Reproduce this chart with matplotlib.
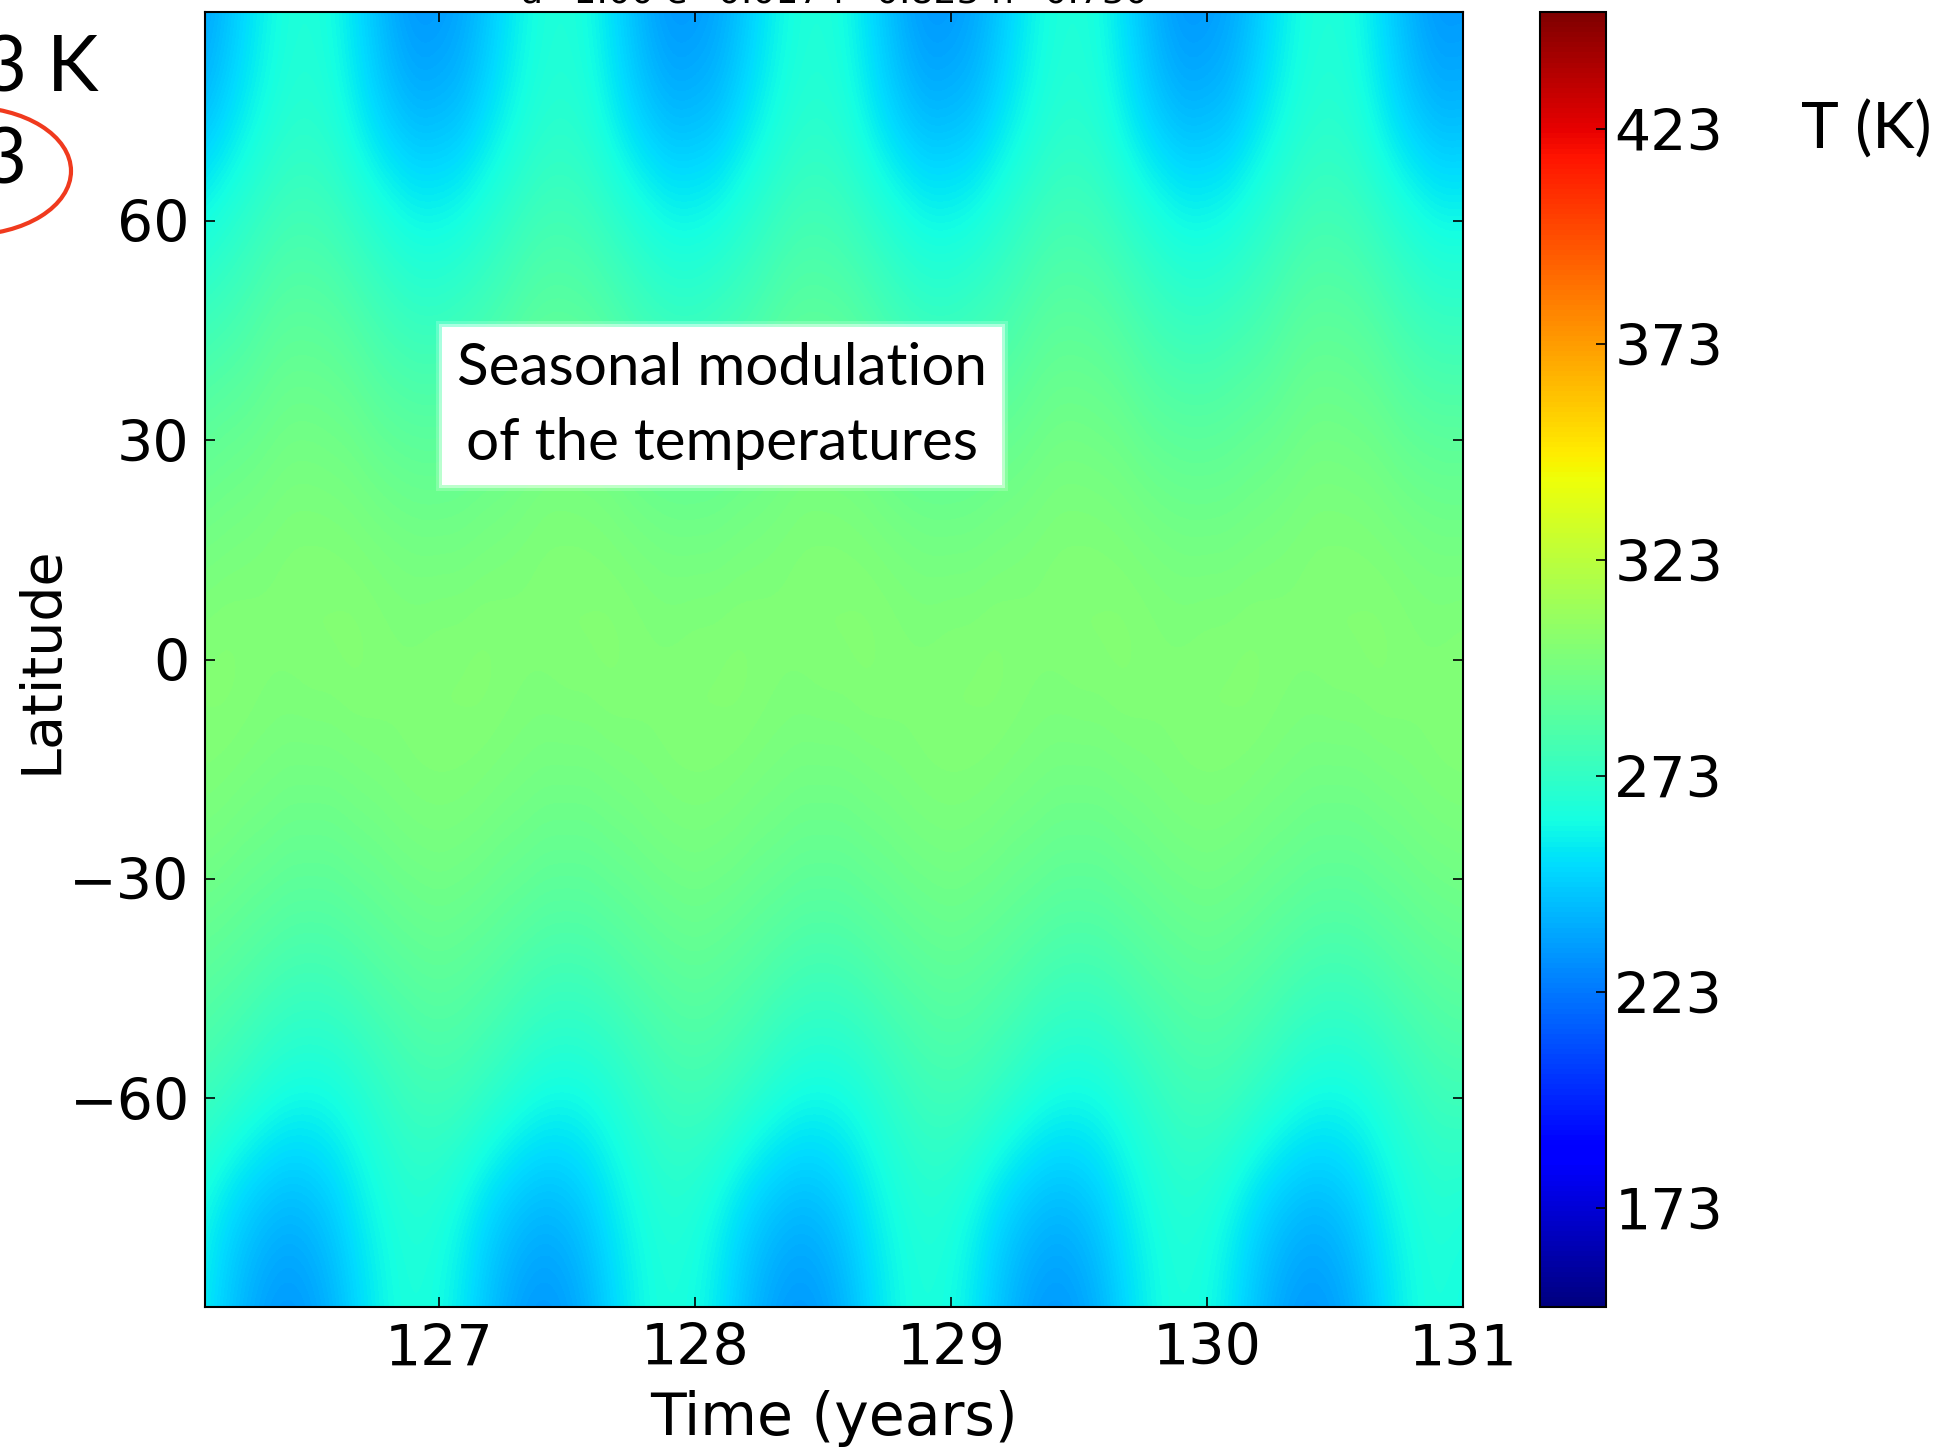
import numpy as np
import matplotlib
matplotlib.use("Agg")
import matplotlib.pyplot as plt
from matplotlib.patches import Ellipse

# latitude rows (deg) of the zonal-mean temperature table
lats = [90, 75, 60, 45, 30, 15, 0, -15, -30, -45, -60, -75, -90]

# monthly surface temperature (K) over one orbit, one row per latitude
temps = [
    [232, 236, 243, 252, 260, 265, 266, 262, 254, 245, 236, 231],
    [241, 243, 250, 257, 263, 267, 268, 265, 258, 250, 244, 240],
    [262, 264, 268, 272, 276, 279, 279, 277, 273, 269, 265, 262],
    [276, 278, 280, 283, 287, 289, 289, 288, 285, 281, 278, 276],
    [289, 290, 292, 293, 295, 297, 297, 296, 295, 292, 290, 289],
    [298, 298, 299, 300, 301, 302, 302, 302, 301, 300, 299, 298],
    [303, 303, 304, 303, 302, 302, 303, 303, 304, 303, 302, 302],
    [302, 302, 301, 300, 299, 298, 298, 298, 299, 300, 301, 302],
    [297, 296, 295, 293, 292, 290, 290, 290, 292, 293, 295, 296],
    [288, 287, 285, 283, 280, 278, 277, 278, 280, 283, 285, 287],
    [278, 277, 274, 270, 266, 263, 262, 263, 266, 270, 274, 277],
    [265, 260, 253, 247, 243, 241, 243, 248, 255, 261, 265, 267],
    [262, 256, 247, 239, 233, 231, 234, 240, 249, 257, 263, 265],
]

years = [126, 127, 128, 129, 130]
x_ticks = [127, 128, 129, 130, 131]
y_ticks = [-60, -30, 0, 30, 60]
cbar_ticks = [173, 223, 273, 323, 373, 423]

W, H = 1948, 1447
fig = plt.figure(figsize=(W / 100, H / 100), dpi=100)


def fx(px):
    return px / W


def fy(py):
    return 1 - py / H


ax = fig.add_axes([fx(205), fy(1307), fx(1463 - 205), (1307 - 12) / H])
cax = fig.add_axes([fx(1540), fy(1307), fx(1606 - 1540), (1307 - 12) / H])

# same orbit repeated every year, plus the closing month at t=131
field = np.array(temps, dtype=float)
field = np.hstack([np.tile(field, (1, len(years))), field[:, :1]])
t0, t1 = years[0], years[-1] + 1
dt = 1 / 12.0
dlat = 15.0

im = ax.imshow(field, cmap="jet", vmin=150, vmax=450, aspect="auto",
               interpolation="bicubic",
               extent=[t0 - dt / 2, t1 + dt / 2, lats[-1] - dlat / 2, lats[0] + dlat / 2])
ax.set_xlim(126.086, 131)
ax.set_ylim(-88.5, 88.5)

tick_font = dict(family="DejaVu Sans", size=41)
ax.set_xticks(x_ticks)
ax.set_yticks(y_ticks)
ax.set_xticklabels([str(v) for v in x_ticks], **tick_font)
ax.set_yticklabels([str(v).replace("-", "\u2212") for v in y_ticks], **tick_font)
ax.tick_params(direction="in", top=True, right=True, length=7, width=1.2, pad=11)
for s in ax.spines.values():
    s.set_linewidth(1.5)
ax.set_xlabel("Time (years)", family="DejaVu Sans", size=42, labelpad=9)
ax.set_ylabel("Latitude", family="DejaVu Sans", size=40, labelpad=1)
ax.set_title("a=1.00 e=0.017 f=0.823 h=0.730", family="DejaVu Sans", size=26, pad=7)

cb = fig.colorbar(im, cax=cax)
cb.set_ticks(cbar_ticks)
cb.ax.set_yticklabels([str(v) for v in cbar_ticks], **tick_font)
cb.ax.tick_params(direction="in", length=7, width=1.2, pad=6)
cb.outline.set_linewidth(1.5)

# slide annotations: white label with a soft edge
slide_font = dict(family="Lato", color="black")
label = "Seasonal modulation\nof the temperatures"
for pad, alpha in [(0.36, 0.2), (0.31, 0.45)]:
    fig.text(fx(722), fy(406), label, ha="center", va="center", size=42, linespacing=1.5,
             color="none", family="Lato",
             bbox=dict(boxstyle=f"square,pad={pad}", fc="white", ec="none", alpha=alpha))
fig.text(fx(722), fy(406), label, ha="center", va="center", size=42, linespacing=1.5,
         **slide_font, bbox=dict(boxstyle="square,pad=0.26", fc="white", ec="none"))
fig.text(fx(1866), fy(130), "T (K)", ha="center", va="center", size=46, **slide_font)
fig.text(fx(98), fy(70), "3 K", ha="right", va="center", size=56, **slide_font)
fig.text(fx(27), fy(162), "3", ha="right", va="center", size=56, **slide_font)
fig.add_artist(Ellipse((fx(-32), fy(171)), fx(206), 128 / H, transform=fig.transFigure,
                       fill=False, ec="#f03a1e", lw=3))

fig.savefig("out.png", dpi=100)
